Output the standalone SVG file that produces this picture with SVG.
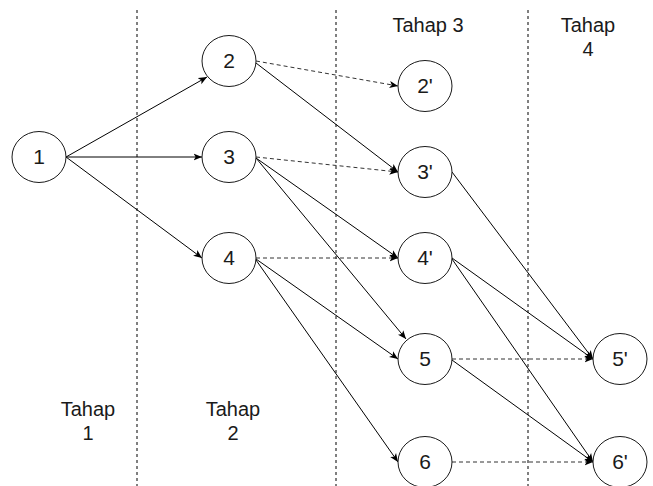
<svg xmlns="http://www.w3.org/2000/svg" width="653" height="486" viewBox="0 0 653 486">
  <style>
    .node ellipse { fill: #ffffff; stroke: #1a1a1a; stroke-width: 1; }
    .node text { font-family: "Liberation Sans", Arial, sans-serif; font-size: 21px; fill: #1a1a1a; text-anchor: middle; }
    .label { font-family: "Liberation Sans", Arial, sans-serif; font-size: 20px; fill: #1a1a1a; text-anchor: middle; }
    .edge { stroke: #000000; stroke-width: 1; fill: none; marker-end: url(#arrow); }
    .dashed { stroke: #333333; stroke-dasharray: 4 3; }
    .divider { stroke: #000000; stroke-width: 1; stroke-dasharray: 3 3; }
  </style>
  <defs>
    <marker id="arrow" viewBox="0 0 10 10" refX="10" refY="5" markerWidth="8.5" markerHeight="8.5" markerUnits="userSpaceOnUse" orient="auto">
      <path d="M0,0.8 L10,5 L0,9.2 L2.5,5 z" fill="#000000"/>
    </marker>
  </defs>

  <!-- stage dividers -->
  <g id="dividers">
    <line class="divider" x1="137" y1="10" x2="137" y2="486"/>
    <line class="divider" x1="336" y1="10" x2="336" y2="486"/>
    <line class="divider" x1="528" y1="10" x2="528" y2="486"/>
  </g>

  <!-- stage labels -->
  <g id="labels">
    <text class="label" x="88" y="416">Tahap</text>
    <text class="label" x="88" y="440">1</text>
    <text class="label" x="233" y="416">Tahap</text>
    <text class="label" x="233" y="440">2</text>
    <text class="label" x="428" y="32">Tahap 3</text>
    <text class="label" x="588" y="32">Tahap</text>
    <text class="label" x="588" y="56">4</text>
  </g>

  <!-- connectors -->
  <g id="edges">
    <line class="edge" x1="66" y1="157" x2="207" y2="77"/>
    <line class="edge" x1="66" y1="157" x2="202" y2="157"/>
    <line class="edge" x1="66" y1="157" x2="202" y2="258"/>
    <line class="edge dashed" x1="256" y1="61" x2="398" y2="86"/>
    <line class="edge" x1="256" y1="63" x2="398" y2="172"/>
    <line class="edge dashed" x1="256" y1="157" x2="398" y2="172"/>
    <line class="edge" x1="256" y1="158" x2="398" y2="258"/>
    <line class="edge" x1="256" y1="158" x2="406" y2="339"/>
    <line class="edge dashed" x1="256" y1="258" x2="398" y2="258"/>
    <line class="edge" x1="256" y1="259" x2="398" y2="359"/>
    <line class="edge" x1="256" y1="260" x2="398" y2="462"/>
    <line class="edge" x1="452" y1="172" x2="593" y2="359"/>
    <line class="edge" x1="452" y1="258" x2="593" y2="359"/>
    <line class="edge" x1="452" y1="259" x2="593" y2="462"/>
    <line class="edge dashed" x1="452" y1="359" x2="593" y2="359"/>
    <line class="edge" x1="452" y1="360" x2="593" y2="462"/>
    <line class="edge dashed" x1="452" y1="462" x2="593" y2="462"/>
  </g>

  <!-- nodes -->
  <g id="n1" class="node"><ellipse cx="39" cy="157" rx="27" ry="25.5"/><text x="39" y="163.5">1</text></g>
  <g id="n2" class="node"><ellipse cx="229" cy="61" rx="27" ry="25.5"/><text x="229" y="67.5">2</text></g>
  <g id="n3" class="node"><ellipse cx="229" cy="157" rx="27" ry="25.5"/><text x="229" y="163.5">3</text></g>
  <g id="n4" class="node"><ellipse cx="229" cy="258" rx="27" ry="25.5"/><text x="229" y="264.5">4</text></g>
  <g id="n2p" class="node"><ellipse cx="425" cy="86" rx="27" ry="25.5"/><text x="425" y="92.5">2'</text></g>
  <g id="n3p" class="node"><ellipse cx="425" cy="172" rx="27" ry="25.5"/><text x="425" y="178.5">3'</text></g>
  <g id="n4p" class="node"><ellipse cx="425" cy="258" rx="27" ry="25.5"/><text x="425" y="264.5">4'</text></g>
  <g id="n5" class="node"><ellipse cx="425" cy="359" rx="27" ry="25.5"/><text x="425" y="365.5">5</text></g>
  <g id="n6" class="node"><ellipse cx="425" cy="462" rx="27" ry="25.5"/><text x="425" y="468.5">6</text></g>
  <g id="n5p" class="node"><ellipse cx="620" cy="359" rx="27" ry="25.5"/><text x="620" y="365.5">5'</text></g>
  <g id="n6p" class="node"><ellipse cx="620" cy="462" rx="27" ry="25.5"/><text x="620" y="468.5">6'</text></g>
</svg>
